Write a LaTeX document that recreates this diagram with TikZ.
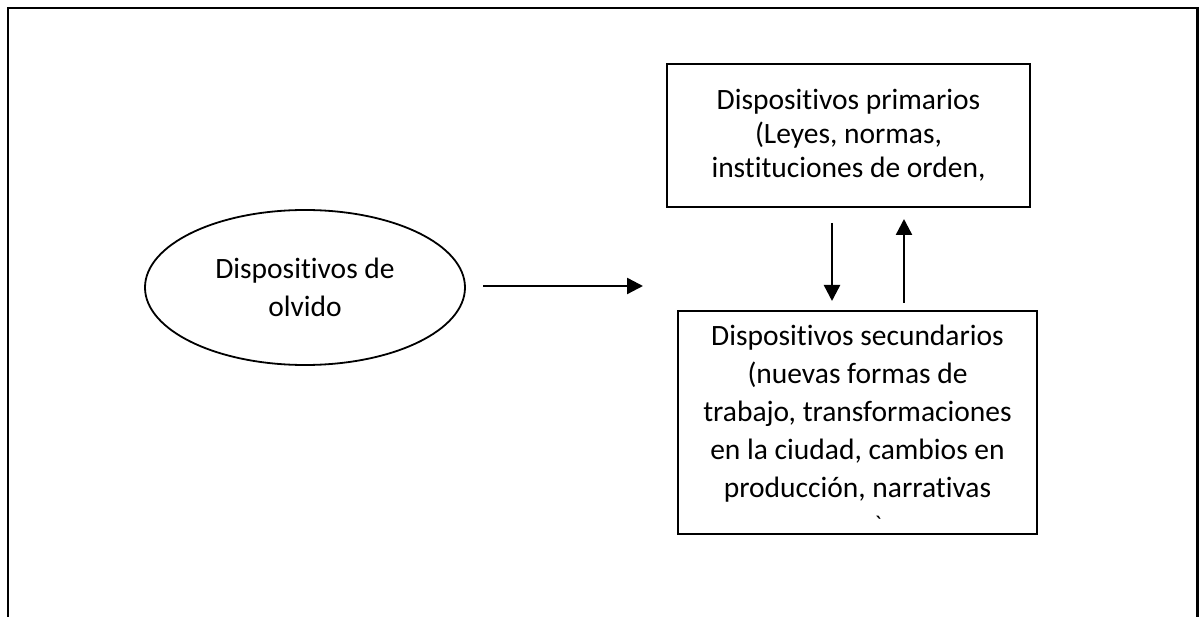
\documentclass[tikz,border=0pt]{standalone}
\usepackage{fontspec}
\setmainfont{Carlito}[Ligatures=NoCommon]
\newfontfamily\crudo{Carlito}
\usetikzlibrary{arrows.meta,shapes}
\tikzstyle{caja}=[draw,line width=2pt,align=center,inner sep=0pt,font=\fontsize{29.5}{38}\selectfont]
\tikzstyle{globo}=[ellipse,draw,line width=1.8pt,inner sep=0pt,align=center,font=\fontsize{29.5}{38}\selectfont]
\tikzstyle{flecha}=[draw,line width=2.4pt,-{Triangle[width=16pt,length=16pt]}]

\begin{document}
\begin{tikzpicture}[x=1pt,y=-1pt]
\useasboundingbox (0,0) rectangle (1200,617);

% marco
\draw[line width=2.5pt] (8,617) -- (8,8) -- (1197.5,8) -- (1197.5,617);

% nodos
\node[globo,minimum width=320pt,minimum height=155pt] (olvido) at (305,287.5) {Dispositivos de\\olvido};
\node[caja,minimum width=363pt,minimum height=143pt,font=\fontsize{29.5}{34}\selectfont] (primarios) at (848.5,135.5)
  {Dispositivos primarios\\(Leyes, normas,\\instituciones de orden,};
\node[caja,minimum width=359pt,minimum height=223pt] (secundarios) at (857.5,422.5)
  {Dispositivos secundarios\\(nuevas formas de\\trabajo, transformaciones\\en la ciudad, cambios en\\producción, narrativas\\[-16pt]\mbox{}};
\node[font=\crudo\fontsize{24}{30}\selectfont,inner sep=0pt,anchor=north] (resto) at (878,516) {`};

% conectores
\coordinate (h1) at (483,286);
\coordinate (h2) at (643,286);
\coordinate (b1) at (832,223);
\coordinate (b2) at (832,301);
\coordinate (s1) at (904,303);
\coordinate (s2) at (904,219);
\path[flecha] (h1) -- (h2);
\path[flecha] (b1) -- (b2);
\path[flecha] (s1) -- (s2);

\end{tikzpicture}
\end{document}
